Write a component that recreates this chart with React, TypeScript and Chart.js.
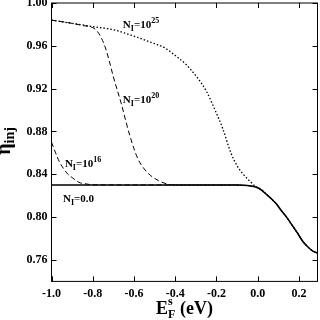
import React, { useEffect, useRef } from "react";
import { Chart, registerables } from "chart.js";
Chart.register(...registerables);

const xTickValues = [-1.0, -0.8, -0.6, -0.4, -0.2, 0.0, 0.2];
const xTickLabels = ["-1.0", "-0.8", "-0.6", "-0.4", "-0.2", "0.0", "0.2"];
const yTickValues = [0.76, 0.8, 0.84, 0.88, 0.92, 0.96, 1.0];
const yTickLabels = ["0.76", "0.80", "0.84", "0.88", "0.92", "0.96", "1.00"];

// N_I = 0.0 (solid)
const n0X = [-1.0, -0.6, -0.2, -0.1, -0.05, -0.02, 0.0, 0.02, 0.044, 0.07, 0.092, 0.115, 0.14, 0.165, 0.19, 0.22, 0.25, 0.27, 0.29];
const n0Y = [0.83, 0.83, 0.83, 0.83, 0.8295, 0.8287, 0.8275, 0.825, 0.821, 0.8165, 0.812, 0.806, 0.8, 0.793, 0.786, 0.777, 0.771, 0.768, 0.7665];

// N_I = 10^25 (dotted)
const n25X = [-1.0, -0.9, -0.8, -0.7, -0.6, -0.5, -0.45, -0.4, -0.35, -0.3, -0.25, -0.2, -0.17, -0.13, -0.1, -0.07, -0.04, -0.01, 0.02, 0.044, 0.07, 0.092, 0.115, 0.14, 0.165, 0.19, 0.22, 0.25, 0.27, 0.29];
const n25Y = [0.984, 0.981, 0.978, 0.975, 0.969, 0.962, 0.958, 0.951, 0.943, 0.932, 0.918, 0.897, 0.883, 0.86, 0.848, 0.84, 0.834, 0.8285, 0.8255, 0.821, 0.8165, 0.812, 0.806, 0.8, 0.793, 0.786, 0.777, 0.771, 0.768, 0.7665];

// N_I = 10^20 (dashed)
const n20X = [-1.0, -0.9, -0.85, -0.8, -0.78, -0.76, -0.74, -0.72, -0.7, -0.68, -0.66, -0.64, -0.62, -0.6, -0.58, -0.55, -0.52, -0.48, -0.44, -0.4, -0.3, -0.2, -0.1, -0.05, -0.02, 0.0, 0.02, 0.044, 0.07, 0.092, 0.115, 0.14, 0.165, 0.19, 0.22, 0.25, 0.27, 0.29];
const n20Y = [0.984, 0.981, 0.979, 0.977, 0.974, 0.968, 0.959, 0.946, 0.931, 0.918, 0.905, 0.89, 0.876, 0.864, 0.854, 0.845, 0.839, 0.834, 0.831, 0.83, 0.83, 0.83, 0.83, 0.8295, 0.8287, 0.8275, 0.825, 0.821, 0.8165, 0.812, 0.806, 0.8, 0.793, 0.786, 0.777, 0.771, 0.768, 0.7665];

// N_I = 10^16 (dashed)
const n16X = [-1.0, -0.98, -0.96, -0.94, -0.92, -0.9, -0.88, -0.86, -0.83, -0.8, -0.6, -0.4, -0.2, -0.1, -0.05, -0.02, 0.0, 0.02, 0.044, 0.07, 0.092, 0.115, 0.14, 0.165, 0.19, 0.22, 0.25, 0.27, 0.29];
const n16Y = [0.87, 0.86, 0.851, 0.845, 0.84, 0.837, 0.834, 0.832, 0.831, 0.8302, 0.83, 0.83, 0.83, 0.83, 0.8295, 0.8287, 0.8275, 0.825, 0.821, 0.8165, 0.812, 0.806, 0.8, 0.793, 0.786, 0.777, 0.771, 0.768, 0.7665];

// Curve labels: anchor (left, baseline) in data units and exponent text
const labelExp = ["25", "20", "16", ""];
const labelX = [-0.654, -0.654, -0.935, -0.944];
const labelY = [0.977, 0.907, 0.847, 0.814];

const SERIF = "'Liberation Serif', 'Times New Roman', serif";

const zip = (xs: number[], ys: number[]) => xs.map((x, i) => ({ x, y: ys[i] }));

type Part = { t: string; size: number; dy: number };

function drawParts(ctx: CanvasRenderingContext2D, parts: Part[], x: number, y: number, align: "left" | "center") {
  let total = 0;
  for (const p of parts) {
    ctx.font = `bold ${p.size}px ${SERIF}`;
    total += ctx.measureText(p.t).width;
  }
  let cx = align === "center" ? x - total / 2 : x;
  ctx.textAlign = "left";
  ctx.textBaseline = "alphabetic";
  for (const p of parts) {
    ctx.font = `bold ${p.size}px ${SERIF}`;
    ctx.fillText(p.t, cx, y + p.dy);
    cx += ctx.measureText(p.t).width;
  }
}

const decorPlugin = {
  id: "decor",
  afterDraw(chart: any) {
    const { ctx, chartArea: a, scales } = chart;
    const xs = scales.x;
    const ys = scales.y;
    ctx.save();
    ctx.strokeStyle = "#000";
    ctx.fillStyle = "#000";
    ctx.lineWidth = 1;
    ctx.strokeRect(a.left, a.top, a.right - a.left, a.bottom - a.top);
    const tl = 5;
    ctx.beginPath();
    for (const v of xTickValues) {
      const px = Math.round(xs.getPixelForValue(v)) + 0.5;
      ctx.moveTo(px, a.bottom);
      ctx.lineTo(px, a.bottom - tl);
      ctx.moveTo(px, a.top);
      ctx.lineTo(px, a.top + tl);
    }
    for (const v of yTickValues) {
      const py = Math.round(ys.getPixelForValue(v)) + 0.5;
      ctx.moveTo(a.left, py);
      ctx.lineTo(a.left + tl, py);
      ctx.moveTo(a.right, py);
      ctx.lineTo(a.right - tl, py);
    }
    ctx.stroke();

    // curve labels
    for (let i = 0; i < labelExp.length; i++) {
      const px = xs.getPixelForValue(labelX[i]);
      const py = ys.getPixelForValue(labelY[i]);
      const parts: Part[] = [
        { t: "N", size: 11, dy: 0 },
        { t: "I", size: 8, dy: 3 },
      ];
      if (labelExp[i]) {
        parts.push({ t: "=10", size: 11, dy: 0 });
        parts.push({ t: labelExp[i], size: 8, dy: -5 });
      } else {
        parts.push({ t: "=0.0", size: 11, dy: 0 });
      }
      drawParts(ctx, parts, px, py, "left");
    }

    // x axis title
    {
      const cx = (a.left + a.right) / 2;
      const base = 314;
      ctx.font = `bold 18px ${SERIF}`;
      const wE = ctx.measureText("E").width;
      ctx.font = `bold 12px ${SERIF}`;
      const wSub = Math.max(ctx.measureText("F").width, ctx.measureText("s").width);
      ctx.font = `bold 18px ${SERIF}`;
      const wRest = ctx.measureText(" (eV)").width;
      const total = wE + wSub + wRest;
      const x0 = cx - total / 2;
      ctx.textAlign = "left";
      ctx.textBaseline = "alphabetic";
      ctx.font = `bold 18px ${SERIF}`;
      ctx.fillText("E", x0, base);
      ctx.font = `bold 12px ${SERIF}`;
      ctx.fillText("F", x0 + wE, base + 4);
      ctx.fillText("s", x0 + wE, base - 9);
      ctx.font = `bold 18px ${SERIF}`;
      ctx.fillText(" (eV)", x0 + wE + wSub, base);
    }

    // y axis title
    ctx.save();
    ctx.translate(10, 141);
    ctx.rotate(-Math.PI / 2);
    drawParts(
      ctx,
      [
        { t: "η", size: 20, dy: 0 },
        { t: "inj", size: 14, dy: 4 },
      ],
      0,
      0,
      "center"
    );
    ctx.restore();
    ctx.restore();
  },
};

export default function App() {
  const ref = useRef<HTMLCanvasElement | null>(null);
  useEffect(() => {
    if (!ref.current) return;
    const tickFont = { family: SERIF, size: 12, weight: "bold" as const };
    const chart = new Chart(ref.current, {
      type: "line",
      data: {
        datasets: [
          {
            label: "N=0.0",
            data: zip(n0X, n0Y),
            borderColor: "#000",
            borderWidth: 1.5,
            pointRadius: 0,
            cubicInterpolationMode: "monotone",
            fill: false,
          },
          {
            label: "N=1e16",
            data: zip(n16X, n16Y),
            borderColor: "#000",
            borderWidth: 1,
            borderDash: [5, 3],
            pointRadius: 0,
            cubicInterpolationMode: "monotone",
            fill: false,
          },
          {
            label: "N=1e20",
            data: zip(n20X, n20Y),
            borderColor: "#000",
            borderWidth: 1,
            borderDash: [5, 3],
            pointRadius: 0,
            cubicInterpolationMode: "monotone",
            fill: false,
          },
          {
            label: "N=1e25",
            data: zip(n25X, n25Y),
            borderColor: "#000",
            borderWidth: 1.3,
            borderDash: [1.5, 2],
            pointRadius: 0,
            cubicInterpolationMode: "monotone",
            fill: false,
          },
        ],
      },
      options: {
        animation: false,
        responsive: false,
        devicePixelRatio: 1,
        layout: { padding: { top: 3, right: 2.5, left: 0, bottom: 0 } },
        plugins: { legend: { display: false }, tooltip: { enabled: false } },
        scales: {
          x: {
            type: "linear",
            min: -1.0,
            max: 0.29,
            grid: { display: false, drawTicks: false },
            border: { display: false },
            afterBuildTicks: (s: any) => {
              s.ticks = xTickValues.map((v) => ({ value: v }));
            },
            afterFit: (s: any) => {
              s.height = 38.6;
              s.paddingLeft = 0;
              s.paddingRight = 0;
            },
            ticks: {
              color: "#000",
              font: tickFont,
              padding: 5,
              maxRotation: 0,
              autoSkip: false,
              callback: (v: any) => {
                const i = xTickValues.findIndex((t) => Math.abs(t - Number(v)) < 1e-9);
                return i >= 0 ? xTickLabels[i] : "";
              },
            },
          },
          y: {
            type: "linear",
            min: 0.74,
            max: 1.0,
            grid: { display: false, drawTicks: false },
            border: { display: false },
            afterBuildTicks: (s: any) => {
              s.ticks = yTickValues.map((v) => ({ value: v }));
            },
            afterFit: (s: any) => {
              s.width = 51.5;
              s.paddingTop = 0;
              s.paddingBottom = 0;
            },
            ticks: {
              color: "#000",
              font: tickFont,
              padding: 4,
              autoSkip: false,
              callback: (v: any) => {
                const i = yTickValues.findIndex((t) => Math.abs(t - Number(v)) < 1e-9);
                return i >= 0 ? yTickLabels[i] : "";
              },
            },
          },
        },
      },
      plugins: [decorPlugin],
    } as any);
    return () => chart.destroy();
  }, []);
  return (
    <div style={{ position: "absolute", left: 0, top: 0, width: 320, height: 320, background: "#fff" }}>
      <canvas ref={ref} width={320} height={320} style={{ width: 320, height: 320 }} />
    </div>
  );
}
